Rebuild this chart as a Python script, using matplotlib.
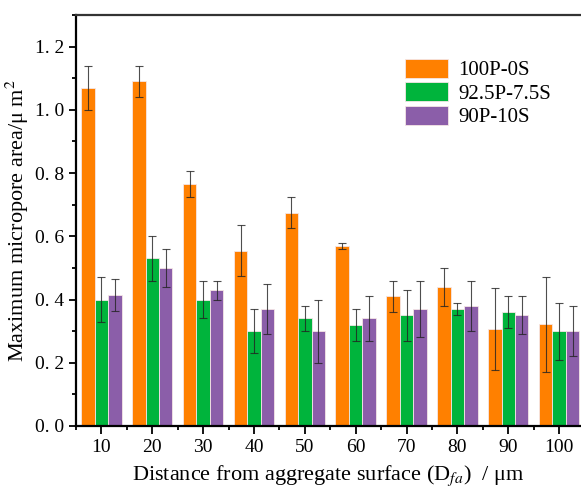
import numpy as np
import matplotlib
matplotlib.use("Agg")
import matplotlib.pyplot as plt
from matplotlib.ticker import MultipleLocator

plt.rcParams['font.family'] = ['Liberation Serif', 'DejaVu Serif']
plt.rcParams['mathtext.fontset'] = 'stix'

distances = [10, 20, 30, 40, 50, 60, 70, 80, 90, 100]
series_labels = ["100P-0S", "92.5P-7.5S", "90P-10S"]

mean_100p = [1.07, 1.09, 0.765, 0.555, 0.675, 0.57, 0.41, 0.44, 0.307, 0.321]
err_100p = [0.07, 0.05, 0.04, 0.08, 0.05, 0.01, 0.05, 0.06, 0.13, 0.15]

mean_925p = [0.40, 0.53, 0.40, 0.30, 0.34, 0.32, 0.35, 0.37, 0.36, 0.30]
err_925p = [0.07, 0.07, 0.06, 0.07, 0.04, 0.05, 0.08, 0.02, 0.05, 0.09]

mean_90p = [0.415, 0.50, 0.43, 0.37, 0.30, 0.34, 0.37, 0.38, 0.35, 0.30]
err_90p = [0.05, 0.06, 0.03, 0.08, 0.10, 0.07, 0.09, 0.08, 0.06, 0.08]

y_ticks = [0.0, 0.2, 0.4, 0.6, 0.8, 1.0, 1.2]
y_ticklabels = ["0. 0", "0. 2", "0. 4", "0. 6", "0. 8", "1. 0", "1. 2"]

colors = ['#FF8000', '#00B43C', '#8B5EA9']


def plot_bars():
    fig = plt.figure(figsize=(5.81, 4.86), dpi=100)
    ax = fig.add_axes([0.1308, 0.1235, 0.8692, 0.8457])

    x = np.array(distances, dtype=float)
    width = 2.65
    means = [mean_100p, mean_925p, mean_90p]
    errs = [err_100p, err_925p, err_90p]
    for i in range(3):
        pos = x + (i - 1) * width
        ax.bar(pos, means[i], width=width, color=colors[i], edgecolor='#f5e6e6',
               linewidth=0.6, label=series_labels[i])
        ax.errorbar(pos, means[i], yerr=errs[i], fmt='none', ecolor='#222222',
                    elinewidth=0.8, capsize=3, capthick=0.8, alpha=0.8)

    ax.set_xlim(5.3, 104.3)
    ax.set_ylim(0, 1.3)
    ax.set_xticks(distances)
    ax.set_xticks([d + 5 for d in distances[:-1]] + [5], minor=True)
    ax.set_yticks(y_ticks)
    ax.set_yticklabels(y_ticklabels)
    ax.yaxis.set_minor_locator(MultipleLocator(0.1))

    ax.tick_params(axis='both', which='major', direction='out', length=5,
                   width=1.3, labelsize=14, colors='black')
    ax.tick_params(axis='both', which='minor', direction='out', length=3, width=1.3)
    ax.tick_params(axis='x', which='major', length=6)

    for side in ['left', 'bottom', 'top']:
        ax.spines[side].set_linewidth(1.6)
    ax.spines['top'].set_color('#333333')
    ax.spines['right'].set_visible(False)

    ax.set_ylabel('Maximum micropore area/μ m$^2$', fontsize=16, labelpad=3)
    ax.set_xlabel('Distance from aggregate surface (D$_{fa}$)  / μm', fontsize=16,
                  labelpad=5)

    ax.legend(loc='upper left', bbox_to_anchor=(0.651, 0.893), frameon=False,
              fontsize=15, handlelength=2.07, handleheight=1.0, handletextpad=0.5,
              labelspacing=0.1, borderaxespad=0, borderpad=0)

    fig.savefig('out.png', dpi=100)
    plt.close(fig)


if __name__ == "__main__":
    plot_bars()
